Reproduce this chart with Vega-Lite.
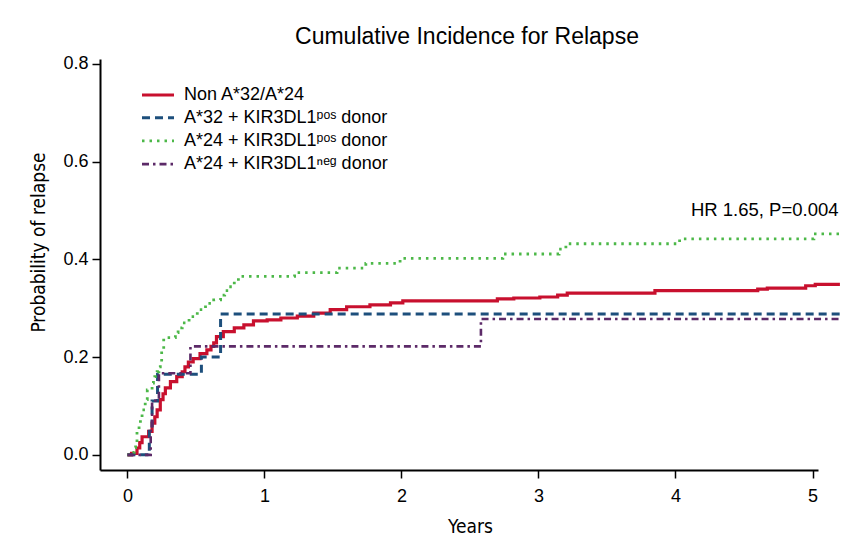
{
  "$schema": "https://vega.github.io/schema/vega-lite/v6.json",
  "width": 718,
  "height": 411,
  "autosize": {"type": "none"},
  "padding": {"left": 100, "top": 59, "right": 25, "bottom": 77},
  "background": "white",
  "title": {"text": "Cumulative Incidence for Relapse", "font": "Liberation Sans", "fontSize": 23, "fontWeight": "normal", "color": "#000", "offset": 6, "dx": 8, "anchor": "middle"},
  "config": {
    "view": {"stroke": null},
    "axis": {"domainColor": "#000", "domainWidth": 2, "tickColor": "#000", "tickWidth": 1.5, "tickSize": 8, "labelColor": "#000", "titleColor": "#000", "labelFont": "Liberation Sans", "titleFont": "DejaVu Sans Condensed, Liberation Sans", "labelFontSize": 18, "titleFontSize": 19, "titleFontWeight": "normal", "grid": false}
  },
  "datasets": {
    "curves": [
      {"series": "Non A*32/A*24", "t": 0, "p": 0},
      {"series": "Non A*32/A*24", "t": 0.03, "p": 0.003},
      {"series": "Non A*32/A*24", "t": 0.07, "p": 0.014},
      {"series": "Non A*32/A*24", "t": 0.09, "p": 0.025},
      {"series": "Non A*32/A*24", "t": 0.107, "p": 0.037},
      {"series": "Non A*32/A*24", "t": 0.155, "p": 0.048},
      {"series": "Non A*32/A*24", "t": 0.18, "p": 0.065},
      {"series": "Non A*32/A*24", "t": 0.2, "p": 0.078},
      {"series": "Non A*32/A*24", "t": 0.217, "p": 0.092},
      {"series": "Non A*32/A*24", "t": 0.24, "p": 0.113},
      {"series": "Non A*32/A*24", "t": 0.26, "p": 0.125},
      {"series": "Non A*32/A*24", "t": 0.277, "p": 0.137},
      {"series": "Non A*32/A*24", "t": 0.314, "p": 0.15},
      {"series": "Non A*32/A*24", "t": 0.36, "p": 0.16},
      {"series": "Non A*32/A*24", "t": 0.4, "p": 0.17},
      {"series": "Non A*32/A*24", "t": 0.42, "p": 0.18},
      {"series": "Non A*32/A*24", "t": 0.445, "p": 0.19},
      {"series": "Non A*32/A*24", "t": 0.48, "p": 0.197},
      {"series": "Non A*32/A*24", "t": 0.53, "p": 0.207},
      {"series": "Non A*32/A*24", "t": 0.58, "p": 0.215},
      {"series": "Non A*32/A*24", "t": 0.61, "p": 0.222},
      {"series": "Non A*32/A*24", "t": 0.63, "p": 0.229},
      {"series": "Non A*32/A*24", "t": 0.65, "p": 0.242},
      {"series": "Non A*32/A*24", "t": 0.7, "p": 0.252},
      {"series": "Non A*32/A*24", "t": 0.78, "p": 0.26},
      {"series": "Non A*32/A*24", "t": 0.85, "p": 0.266},
      {"series": "Non A*32/A*24", "t": 0.92, "p": 0.274},
      {"series": "Non A*32/A*24", "t": 1.02, "p": 0.276},
      {"series": "Non A*32/A*24", "t": 1.12, "p": 0.28},
      {"series": "Non A*32/A*24", "t": 1.24, "p": 0.284},
      {"series": "Non A*32/A*24", "t": 1.36, "p": 0.29},
      {"series": "Non A*32/A*24", "t": 1.48, "p": 0.297},
      {"series": "Non A*32/A*24", "t": 1.6, "p": 0.303},
      {"series": "Non A*32/A*24", "t": 1.77, "p": 0.307},
      {"series": "Non A*32/A*24", "t": 1.92, "p": 0.311},
      {"series": "Non A*32/A*24", "t": 2.01, "p": 0.315},
      {"series": "Non A*32/A*24", "t": 2.7, "p": 0.319},
      {"series": "Non A*32/A*24", "t": 2.82, "p": 0.321},
      {"series": "Non A*32/A*24", "t": 3.01, "p": 0.323},
      {"series": "Non A*32/A*24", "t": 3.14, "p": 0.327},
      {"series": "Non A*32/A*24", "t": 3.21, "p": 0.331},
      {"series": "Non A*32/A*24", "t": 3.85, "p": 0.336},
      {"series": "Non A*32/A*24", "t": 4.6, "p": 0.339},
      {"series": "Non A*32/A*24", "t": 4.67, "p": 0.341},
      {"series": "Non A*32/A*24", "t": 4.95, "p": 0.346},
      {"series": "Non A*32/A*24", "t": 5.02, "p": 0.349},
      {"series": "Non A*32/A*24", "t": 5.2, "p": 0.349},

      {"series": "A*32 + KIR3DL1ᵖᵒˢ donor", "t": 0, "p": 0},
      {"series": "A*32 + KIR3DL1ᵖᵒˢ donor", "t": 0.16, "p": 0.055},
      {"series": "A*32 + KIR3DL1ᵖᵒˢ donor", "t": 0.18, "p": 0.11},
      {"series": "A*32 + KIR3DL1ᵖᵒˢ donor", "t": 0.22, "p": 0.165},
      {"series": "A*32 + KIR3DL1ᵖᵒˢ donor", "t": 0.54, "p": 0.2},
      {"series": "A*32 + KIR3DL1ᵖᵒˢ donor", "t": 0.68, "p": 0.288},
      {"series": "A*32 + KIR3DL1ᵖᵒˢ donor", "t": 5.2, "p": 0.288},

      {"series": "A*24 + KIR3DL1ᵖᵒˢ donor", "t": 0, "p": 0},
      {"series": "A*24 + KIR3DL1ᵖᵒˢ donor", "t": 0.03, "p": 0.005},
      {"series": "A*24 + KIR3DL1ᵖᵒˢ donor", "t": 0.05, "p": 0.015},
      {"series": "A*24 + KIR3DL1ᵖᵒˢ donor", "t": 0.06, "p": 0.025},
      {"series": "A*24 + KIR3DL1ᵖᵒˢ donor", "t": 0.07, "p": 0.048},
      {"series": "A*24 + KIR3DL1ᵖᵒˢ donor", "t": 0.085, "p": 0.06},
      {"series": "A*24 + KIR3DL1ᵖᵒˢ donor", "t": 0.095, "p": 0.072},
      {"series": "A*24 + KIR3DL1ᵖᵒˢ donor", "t": 0.107, "p": 0.092},
      {"series": "A*24 + KIR3DL1ᵖᵒˢ donor", "t": 0.13, "p": 0.113},
      {"series": "A*24 + KIR3DL1ᵖᵒˢ donor", "t": 0.145, "p": 0.133},
      {"series": "A*24 + KIR3DL1ᵖᵒˢ donor", "t": 0.18, "p": 0.147},
      {"series": "A*24 + KIR3DL1ᵖᵒˢ donor", "t": 0.19, "p": 0.153},
      {"series": "A*24 + KIR3DL1ᵖᵒˢ donor", "t": 0.2, "p": 0.16},
      {"series": "A*24 + KIR3DL1ᵖᵒˢ donor", "t": 0.217, "p": 0.17},
      {"series": "A*24 + KIR3DL1ᵖᵒˢ donor", "t": 0.23, "p": 0.18},
      {"series": "A*24 + KIR3DL1ᵖᵒˢ donor", "t": 0.24, "p": 0.19},
      {"series": "A*24 + KIR3DL1ᵖᵒˢ donor", "t": 0.25, "p": 0.215},
      {"series": "A*24 + KIR3DL1ᵖᵒˢ donor", "t": 0.265, "p": 0.24},
      {"series": "A*24 + KIR3DL1ᵖᵒˢ donor", "t": 0.35, "p": 0.25},
      {"series": "A*24 + KIR3DL1ᵖᵒˢ donor", "t": 0.37, "p": 0.26},
      {"series": "A*24 + KIR3DL1ᵖᵒˢ donor", "t": 0.4, "p": 0.27},
      {"series": "A*24 + KIR3DL1ᵖᵒˢ donor", "t": 0.45, "p": 0.283},
      {"series": "A*24 + KIR3DL1ᵖᵒˢ donor", "t": 0.51, "p": 0.297},
      {"series": "A*24 + KIR3DL1ᵖᵒˢ donor", "t": 0.57, "p": 0.31},
      {"series": "A*24 + KIR3DL1ᵖᵒˢ donor", "t": 0.63, "p": 0.317},
      {"series": "A*24 + KIR3DL1ᵖᵒˢ donor", "t": 0.68, "p": 0.327},
      {"series": "A*24 + KIR3DL1ᵖᵒˢ donor", "t": 0.71, "p": 0.336},
      {"series": "A*24 + KIR3DL1ᵖᵒˢ donor", "t": 0.74, "p": 0.344},
      {"series": "A*24 + KIR3DL1ᵖᵒˢ donor", "t": 0.78, "p": 0.355},
      {"series": "A*24 + KIR3DL1ᵖᵒˢ donor", "t": 0.81, "p": 0.365},
      {"series": "A*24 + KIR3DL1ᵖᵒˢ donor", "t": 1.22, "p": 0.373},
      {"series": "A*24 + KIR3DL1ᵖᵒˢ donor", "t": 1.53, "p": 0.382},
      {"series": "A*24 + KIR3DL1ᵖᵒˢ donor", "t": 1.74, "p": 0.392},
      {"series": "A*24 + KIR3DL1ᵖᵒˢ donor", "t": 1.99, "p": 0.402},
      {"series": "A*24 + KIR3DL1ᵖᵒˢ donor", "t": 2.74, "p": 0.411},
      {"series": "A*24 + KIR3DL1ᵖᵒˢ donor", "t": 3.15, "p": 0.421},
      {"series": "A*24 + KIR3DL1ᵖᵒˢ donor", "t": 3.2, "p": 0.432},
      {"series": "A*24 + KIR3DL1ᵖᵒˢ donor", "t": 4.03, "p": 0.442},
      {"series": "A*24 + KIR3DL1ᵖᵒˢ donor", "t": 5.01, "p": 0.452},
      {"series": "A*24 + KIR3DL1ᵖᵒˢ donor", "t": 5.2, "p": 0.452},

      {"series": "A*24 + KIR3DL1ⁿᵉᵍ donor", "t": 0, "p": 0},
      {"series": "A*24 + KIR3DL1ⁿᵉᵍ donor", "t": 0.17, "p": 0.056},
      {"series": "A*24 + KIR3DL1ⁿᵉᵍ donor", "t": 0.18, "p": 0.111},
      {"series": "A*24 + KIR3DL1ⁿᵉᵍ donor", "t": 0.23, "p": 0.167},
      {"series": "A*24 + KIR3DL1ⁿᵉᵍ donor", "t": 0.46, "p": 0.222},
      {"series": "A*24 + KIR3DL1ⁿᵉᵍ donor", "t": 2.58, "p": 0.278},
      {"series": "A*24 + KIR3DL1ⁿᵉᵍ donor", "t": 5.2, "p": 0.278}
    ],
    "note": [{"t": 5.19, "p": 0.5, "label": "HR 1.65, P=0.004"}]
  },
  "layer": [
    {
      "data": {"name": "curves"},
      "mark": {"type": "line", "interpolate": "step-after", "clip": false},
      "encoding": {
        "x": {"field": "t", "type": "quantitative", "scale": {"domain": [-0.2, 5.04], "nice": false, "zero": false},
              "axis": {"title": "Years", "values": [0, 1, 2, 3, 4, 5], "format": "d", "labelPadding": 9, "titlePadding": 12, "titleX": 370, "titleAlign": "center"}},
        "y": {"field": "p", "type": "quantitative", "scale": {"domain": [-0.031, 0.81], "nice": false, "zero": false},
              "axis": {"title": "Probability of relapse", "values": [0, 0.2, 0.4, 0.6, 0.8], "format": ".1f", "labelPadding": 4, "titleX": -62, "titleY": 183, "titleAlign": "center", "titleBaseline": "middle", "titleAngle": -90}},
        "order": {"field": "t", "type": "quantitative"},
        "color": {"field": "series", "type": "nominal",
                  "scale": {"domain": ["Non A*32/A*24", "A*32 + KIR3DL1ᵖᵒˢ donor", "A*24 + KIR3DL1ᵖᵒˢ donor", "A*24 + KIR3DL1ⁿᵉᵍ donor"],
                            "range": ["#c8102e", "#1d4f7c", "#4cb848", "#5c2a68"]},
                  "legend": {"title": null, "orient": "none", "legendX": 46, "legendY": 24, "symbolType": "M-1.6,0H1.6", "symbolSize": 400, "symbolStrokeWidth": 3, "symbolFillColor": "transparent", "labelFont": "Liberation Sans", "labelFontSize": 18, "labelColor": "#000", "labelLimit": 400, "rowPadding": 2.2, "labelOffset": 14}},
        "strokeDash": {"field": "series", "type": "nominal",
                  "scale": {"domain": ["Non A*32/A*24", "A*32 + KIR3DL1ᵖᵒˢ donor", "A*24 + KIR3DL1ᵖᵒˢ donor", "A*24 + KIR3DL1ⁿᵉᵍ donor"],
                            "range": [[1, 0], [8, 5], [2.5, 5], [7, 4, 2.5, 4]]},
                  "legend": {"title": null, "orient": "none", "legendX": 46, "legendY": 24, "symbolType": "M-1.6,0H1.6", "symbolSize": 400, "symbolStrokeWidth": 3, "symbolFillColor": "transparent", "labelFont": "Liberation Sans", "labelFontSize": 18, "labelColor": "#000", "labelLimit": 400, "rowPadding": 2.2, "labelOffset": 14}},
        "strokeWidth": {"field": "series", "type": "nominal",
                  "scale": {"domain": ["Non A*32/A*24", "A*32 + KIR3DL1ᵖᵒˢ donor", "A*24 + KIR3DL1ᵖᵒˢ donor", "A*24 + KIR3DL1ⁿᵉᵍ donor"],
                            "range": [3.2, 2.6, 2.6, 2.6]}, "legend": null}
      }
    },
    {
      "data": {"name": "note"},
      "mark": {"type": "text", "align": "right", "baseline": "middle", "font": "Liberation Sans", "fontSize": 18.5, "color": "#000", "clip": false},
      "encoding": {
        "x": {"field": "t", "type": "quantitative"},
        "y": {"field": "p", "type": "quantitative"},
        "text": {"field": "label"}
      }
    }
  ]
}
